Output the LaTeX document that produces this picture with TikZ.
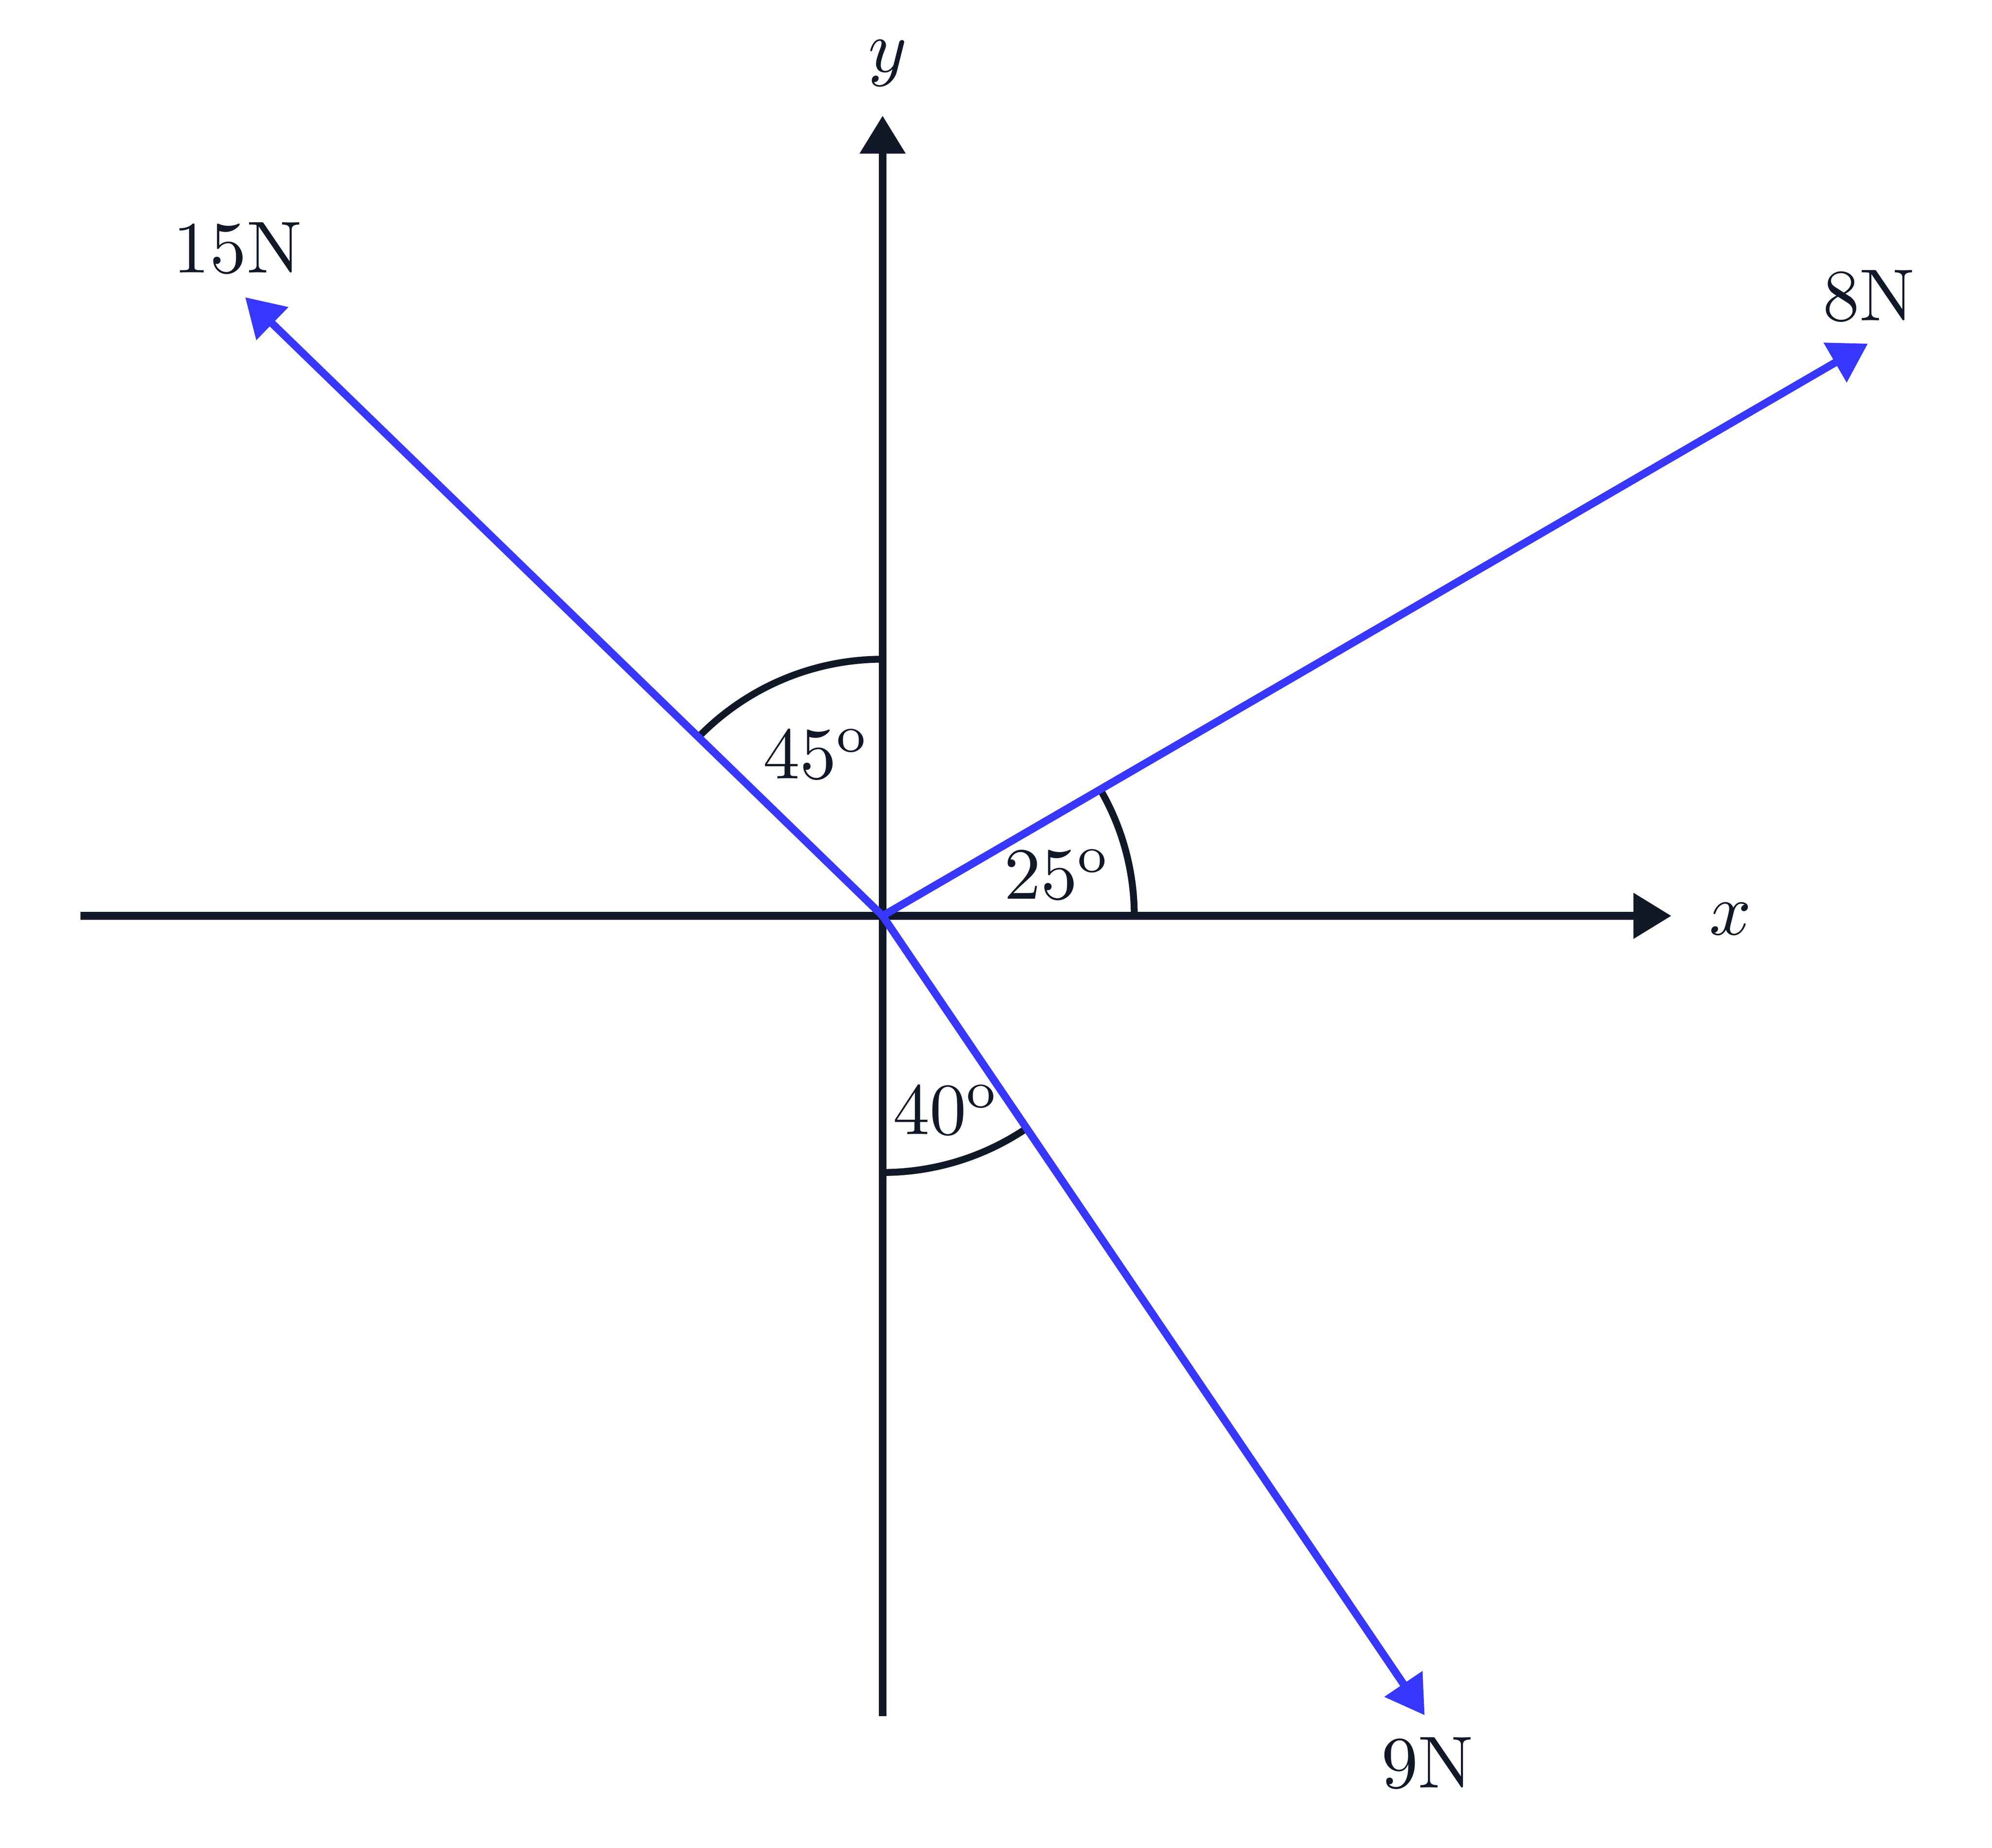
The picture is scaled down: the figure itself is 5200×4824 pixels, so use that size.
\documentclass[tikz,border=0pt]{standalone}
\usetikzlibrary{arrows.meta}
\definecolor{ink}{HTML}{111827}
\definecolor{forceblue}{HTML}{3737FF}
\begin{document}
\begin{tikzpicture}[x=0.1pt,y=0.1pt,
  axisline/.style={draw=ink,line width=2pt,-{Triangle[length=9.9pt,width=11.5pt]}},
  forcevec/.style={draw=forceblue,line width=2pt,-{Triangle[length=9.9pt,width=11.5pt]}},
  anglearc/.style={draw=ink,line width=1.8pt},
  lbl/.style={text=ink,inner sep=0pt,anchor=base,font=\fontsize{10}{12}\selectfont,scale=1.92,transform shape}]
\useasboundingbox (-2304,-2433) rectangle (2896,2391);
% coordinates
\coordinate (O) at (0,0);
\coordinate (xl) at (-2094,0);
\coordinate (xr) at (2059,0);
\coordinate (yb) at (0,-2089);
\coordinate (yt) at (0,2089);
\coordinate (t15) at (-1664,1615);
\coordinate (t8) at (2572,1494);
\coordinate (t9) at (1415,-2087);
% axes
\draw[axisline] (xl) -- (xr);
\draw[axisline] (yb) -- (yt);
% angle arcs
\draw[anglearc] (90:670) arc[start angle=90,end angle=135.86,radius=670];
\draw[anglearc] (0:657) arc[start angle=0,end angle=30.15,radius=657];
\draw[anglearc] (270:670) arc[start angle=270,end angle=304.14,radius=670];
% forces
\draw[forcevec] (O) -- (t15);
\draw[forcevec] (O) -- (t8);
\draw[forcevec] (O) -- (t9);
% labels
\node[lbl] (lx) at (2213,-49) {$x$};
\node[lbl] (ly) at (13,2203) {$y$};
\node[lbl] (l15) at (-1684,1679) {15N};
\node[lbl] (l8) at (2574,1554) {8N};
\node[lbl] (l9) at (1422,-2276) {9N};
\node[lbl] (a45) at (-173,358) {$45^{\mathrm{o}}$};
\node[lbl] (a25) at (456,44) {$25^{\mathrm{o}}$};
\node[lbl] (a40) at (166,-570) {$40^{\mathrm{o}}$};
\end{tikzpicture}
\end{document}
